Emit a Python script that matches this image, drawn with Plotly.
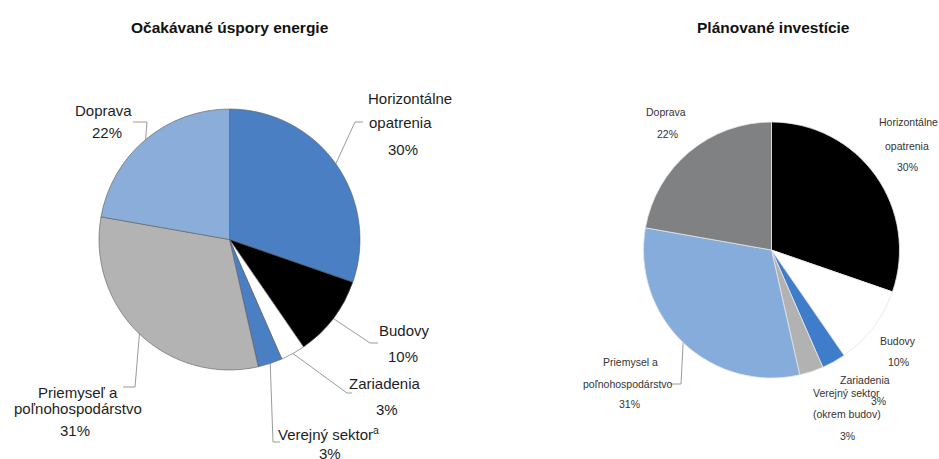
import math
import plotly.graph_objects as go

# ---------------- data ----------------
left_title = "Očakávané úspory energie"
left_labels = ["Horizontálne opatrenia", "Budovy", "Zariadenia", "Verejný sektor", "Priemyseľ a poľnohospodárstvo", "Doprava"]
left_values = [30, 10, 3, 3, 31, 22]
left_colors = ["#4a7fc4", "#000000", "#ffffff", "#4a7fc4", "#b3b3b3", "#8aaed9"]

right_title = "Plánované investície"
right_labels = ["Horizontálne opatrenia", "Budovy", "Zariadenia", "Verejný sektor (okrem budov)", "Priemysel a poľnohospodárstvo", "Doprava"]
right_values = [30, 10, 3, 3, 31, 22]
right_colors = ["#000000", "#ffffff", "#3f7dcb", "#b2b2b2", "#86acdb", "#7f8183"]

W, H = 939, 459

# pie geometry (pixels)
L_CX, L_CY, L_R = 229.5, 239.5, 130.5
R_CX, R_CY, R_R = 771.5, 250.0, 128.0


def dom(cx, cy, r):
    return dict(x=[(cx - r) / W, (cx + r) / W], y=[1 - (cy + r) / H, 1 - (cy - r) / H])


fig = go.Figure()
fig.add_trace(go.Pie(
    labels=left_labels, values=left_values, sort=False, direction="clockwise", rotation=0,
    marker=dict(colors=left_colors, line=dict(color="#5a5a5a", width=0.6)),
    textinfo="none", hoverinfo="label+value", domain=dom(L_CX, L_CY, L_R), showlegend=False,
))
fig.add_trace(go.Pie(
    labels=right_labels, values=right_values, sort=False, direction="clockwise", rotation=0,
    marker=dict(colors=right_colors, line=dict(color="#e6e6e6", width=0.8)),
    textinfo="none", hoverinfo="label+value", domain=dom(R_CX, R_CY, R_R), showlegend=False,
))


def mid_point(values, i, cx, cy, r):
    tot = sum(values)
    a = (sum(values[:i]) + values[i] / 2) / tot * 2 * math.pi
    return cx + r * math.sin(a), cy - r * math.cos(a)


# leader lines: slice index -> elbow/end points (pixels)
left_leaders = {
    0: [(355, 122), (363, 122)],
    1: [(370, 343), (378, 343)],
    2: [(347, 393), (352, 393)],
    3: [(273, 442), (280, 442)],
    4: [(135, 387), (123, 387)],
    5: [(147, 122), (133, 122)],
}
right_leaders = {
    4: [(681, 384), (670, 384)],
}

for leaders, vals, cx, cy, r in [(left_leaders, left_values, L_CX, L_CY, L_R),
                                 (right_leaders, right_values, R_CX, R_CY, R_R)]:
    for i, pts in leaders.items():
        sx, sy = mid_point(vals, i, cx, cy, r)
        xs = [sx] + [p[0] for p in pts]
        ys = [sy] + [p[1] for p in pts]
        fig.add_trace(go.Scatter(x=xs, y=ys, mode="lines", line=dict(color="#9a9a9a", width=1),
                                 hoverinfo="skip", showlegend=False))

annotations = []


def ann(x, y, text, size, color, bold=False):
    annotations.append(dict(x=x, y=y, xref="x", yref="y", text=f"<b>{text}</b>" if bold else text,
                            showarrow=False, xanchor="center", yanchor="middle",
                            font=dict(size=size, color=color, family="Liberation Sans, Arial, sans-serif")))


ann(L_CX, 27, left_title, 15.5, "#111", bold=True)
ann(R_CX + 2, 27, right_title, 15.5, "#111", bold=True)

LC, LS = "#1e1e1e", 15
pct = [f"{v}%" for v in left_values]
ann(410, 98, "Horizontálne", LS, LC); ann(400, 122, "opatrenia", LS, LC); ann(403, 149, pct[0], LS, LC)
ann(404, 330, "Budovy", LS, LC); ann(403, 356, pct[1], LS, LC)
ann(385, 383, "Zariadenia", LS, LC); ann(387, 409, pct[2], LS, LC)
ann(328, 433, "Verejný sektor<sup>a</sup>", LS, LC); ann(330, 453, pct[3], LS, LC)
ann(78, 392, "Priemyseľ a", LS, LC); ann(78, 408, "poľnohospodárstvo", LS, LC); ann(75, 430, pct[4], LS, LC)
ann(103, 110, "Doprava", LS, LC); ann(107, 132, pct[5], LS, LC)

RC, RS = "#333333", 10.5
rp = [f"{v}%" for v in right_values]
ann(908, 122, "Horizontálne", RS, RC); ann(907, 146, "opatrenia", RS, RC); ann(907, 167, rp[0], RS, RC)
ann(898, 341, "Budovy", RS, RC); ann(898, 362, rp[1], RS, RC)
ann(865, 380, "Zariadenia", RS, RC); ann(878, 401, rp[2], RS, RC)
ann(846, 393, "Verejný sektor", RS, RC); ann(847, 414, "(okrem budov)", RS, RC); ann(847, 436, rp[3], RS, RC)
ann(630, 362, "Priemysel a", RS, RC); ann(628, 384, "poľnohospodárstvo", RS, RC); ann(629, 404, rp[4], RS, RC)
ann(666, 112, "Doprava", RS, RC); ann(667, 134, rp[5], RS, RC)

fig.update_layout(
    width=W, height=H, margin=dict(l=0, r=0, t=0, b=0),
    paper_bgcolor="white", plot_bgcolor="rgba(0,0,0,0)",
    xaxis=dict(range=[0, W], visible=False, fixedrange=True, domain=[0, 1]),
    yaxis=dict(range=[H, 0], visible=False, fixedrange=True, domain=[0, 1]),
    annotations=annotations,
)

fig.write_html("out.html", config={"displayModeBar": False},
               post_script="document.body.style.margin='0';document.body.style.overflow='hidden';")
